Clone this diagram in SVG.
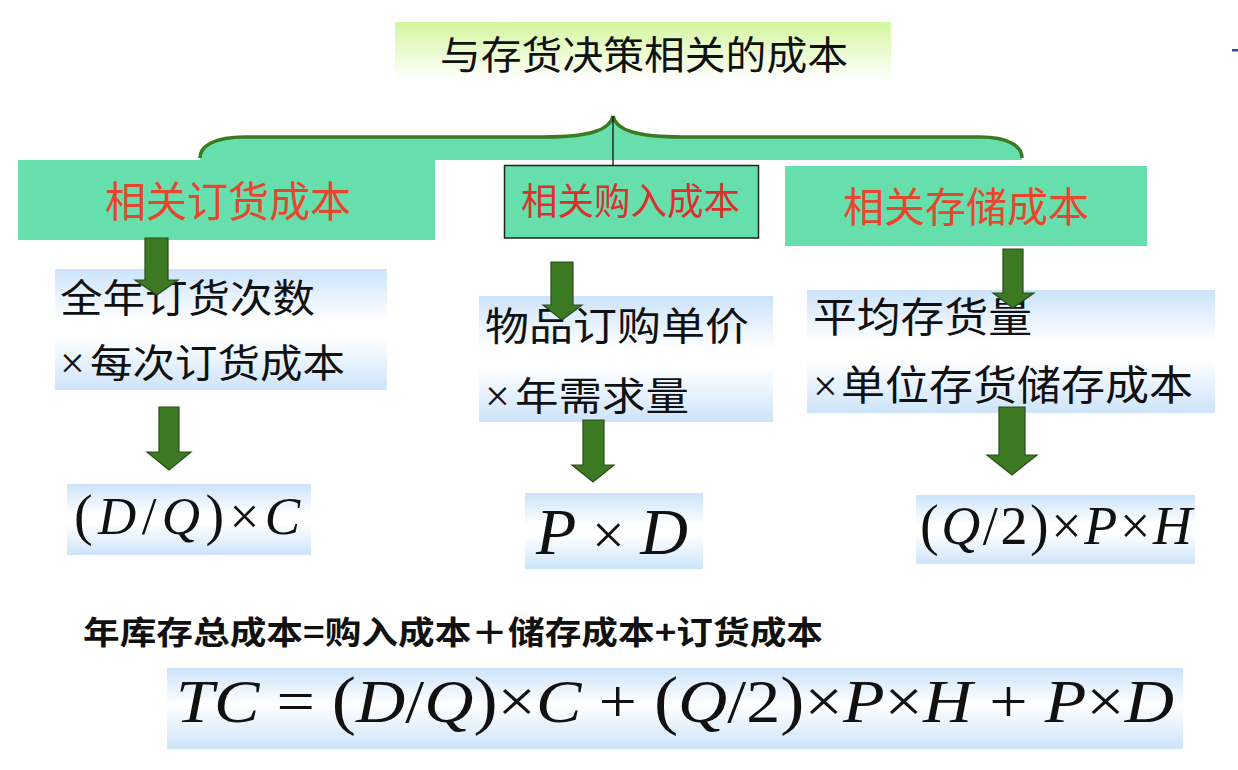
<svg xmlns="http://www.w3.org/2000/svg" width="1238" height="770" viewBox="0 0 1238 770">
<defs>
<linearGradient id="gTitle" x1="0" y1="0" x2="0" y2="1">
<stop offset="0" stop-color="#d4f69e"/>
<stop offset="1" stop-color="#ffffff"/>
</linearGradient>
<linearGradient id="gBlue" x1="0" y1="0" x2="0" y2="1">
<stop offset="0" stop-color="#cbe3fa"/>
<stop offset="0.42" stop-color="#ffffff"/>
<stop offset="0.56" stop-color="#ffffff"/>
<stop offset="1" stop-color="#cde4fa"/>
</linearGradient>
<linearGradient id="gBig" x1="0" y1="0" x2="0" y2="1">
<stop offset="0" stop-color="#cbe3fa"/>
<stop offset="0.45" stop-color="#ffffff"/>
<stop offset="1" stop-color="#cde4fa"/>
</linearGradient>
<style>
.cjk{font-family:"Noto Sans CJK SC","Noto Sans CJK TC",sans-serif;fill:#111}
.red{fill:#e6462e}
.mint{fill:#66dfad}
.tb{fill:url(#gBlue)}
.mul{font-family:"Liberation Serif",serif;font-size:44px;fill:#111}
.f{font-family:"Liberation Serif","Times New Roman",serif;fill:#111}
.i{font-style:italic}
.arrow{fill:#3b7a22;stroke:#2c4a1c;stroke-width:1.2;stroke-linejoin:miter}
</style>
</defs>
<rect width="1238" height="770" fill="#ffffff"/>

<g id="title">
<rect x="395" y="22" width="496" height="58" fill="url(#gTitle)"/>
<text class="cjk" x="440" y="69" font-size="39" textLength="408" lengthAdjust="spacingAndGlyphs">与存货决策相关的成本</text>
</g>

<g id="order-cost">
<rect class="mint" x="18" y="160" width="417" height="80"/>
<text class="cjk red" x="105" y="217" font-size="42" textLength="246" lengthAdjust="spacingAndGlyphs">相关订货成本</text>
</g>

<g id="purchase-cost">
<rect class="mint" x="504.5" y="165.5" width="254" height="72.5" stroke="#222" stroke-width="1.5"/>
<text class="cjk" x="521" y="215" font-size="37" style="fill:#dc2f2f" textLength="219" lengthAdjust="spacingAndGlyphs">相关购入成本</text>
</g>

<g id="holding-cost">
<rect class="mint" x="785" y="166" width="362" height="80"/>
<text class="cjk red" x="843" y="222" font-size="41" textLength="246" lengthAdjust="spacingAndGlyphs">相关存储成本</text>
</g>

<g id="order-desc">
<rect class="tb" x="55" y="269" width="332" height="121"/>
<text class="cjk" x="60" y="312" font-size="39" textLength="255" lengthAdjust="spacingAndGlyphs">全年订货次数</text>
<text class="mul" x="60" y="378">×</text>
<text class="cjk" x="90" y="377" font-size="39" textLength="255" lengthAdjust="spacingAndGlyphs">每次订货成本</text>
</g>

<g id="purchase-desc">
<rect class="tb" x="479" y="296" width="294" height="126"/>
<text class="cjk" x="485" y="340" font-size="39" textLength="264" lengthAdjust="spacingAndGlyphs">物品订购单价</text>
<text class="mul" x="485" y="411">×</text>
<text class="cjk" x="515" y="410" font-size="39" textLength="174" lengthAdjust="spacingAndGlyphs">年需求量</text>
</g>

<g id="holding-desc">
<rect class="tb" x="807" y="290" width="408" height="123"/>
<text class="cjk" x="813" y="332" font-size="41" textLength="219" lengthAdjust="spacingAndGlyphs">平均存货量</text>
<text class="mul" x="813" y="401">×</text>
<text class="cjk" x="841" y="400" font-size="41" textLength="352" lengthAdjust="spacingAndGlyphs">单位存货储存成本</text>
</g>

<g id="order-formula">
<rect class="tb" x="67" y="484" width="244" height="71"/>
<text class="f" x="74" y="534" font-size="53" textLength="226" lengthAdjust="spacing"><tspan font-size="56">(</tspan><tspan class="i">D</tspan>/<tspan class="i">Q</tspan><tspan font-size="56">)</tspan>×<tspan class="i">C</tspan></text>
</g>

<g id="purchase-formula">
<rect class="tb" x="525" y="493" width="178" height="76"/>
<text class="f" x="536" y="554" font-size="66" textLength="152" lengthAdjust="spacing"><tspan class="i">P</tspan><tspan font-size="58">×</tspan><tspan class="i">D</tspan></text>
</g>

<g id="holding-formula">
<rect class="tb" x="916" y="495" width="279" height="69"/>
<text class="f" x="920" y="544" font-size="54" textLength="272" lengthAdjust="spacing"><tspan font-size="56">(</tspan><tspan class="i">Q</tspan>/2<tspan font-size="56">)</tspan>×<tspan class="i">P</tspan>×<tspan class="i">H</tspan></text>
</g>

<g id="total-label">
<text class="cjk" x="83" y="644" font-size="32" font-weight="bold" textLength="740" lengthAdjust="spacingAndGlyphs">年库存总成本=购入成本＋储存成本+订货成本</text>
</g>

<g id="total-formula">
<rect fill="url(#gBig)" x="167" y="668" width="1016" height="81"/>
<text class="f" x="176" y="722" font-size="62" textLength="998" lengthAdjust="spacingAndGlyphs"><tspan class="i">TC</tspan> = <tspan font-size="66">(</tspan><tspan class="i">D</tspan>/<tspan class="i">Q</tspan><tspan font-size="66">)</tspan>×<tspan class="i">C</tspan> + <tspan font-size="66">(</tspan><tspan class="i">Q</tspan>/2<tspan font-size="66">)</tspan>×<tspan class="i">P</tspan>×<tspan class="i">H</tspan> + <tspan class="i">P</tspan>×<tspan class="i">D</tspan></text>
</g>

<g id="corner-mark">
<rect x="1232" y="49" width="6" height="2.5" fill="#2e4b9e"/>
</g>

<g id="connectors">
<path d="M200,160 L200,158 C200,146 214,137 245,137 L543,137 C590,137 610,130 613,116 C616,130 636,137 683,137 L980,137 C1008,137 1022,146 1022,158 L1022,160 Z" fill="#66dfad"/>
<path d="M200,158 C200,146 214,137 245,137 L543,137 C590,137 610,130 613,116 C616,130 636,137 683,137 L980,137 C1008,137 1022,146 1022,158" fill="none" stroke="#3a7a22" stroke-width="3.5"/>
<line x1="613" y1="116" x2="613" y2="166" stroke="#111" stroke-width="1.3"/>
<path class="arrow" d="M145,238 L168,238 L168,280 L178,280 L157,295 L135,280 L145,280 Z"/>
<path class="arrow" d="M551,262 L573,262 L573,305 L582,305 L562,320 L543,305 L551,305 Z"/>
<path class="arrow" d="M1003,249 L1023,249 L1023,293 L1034,293 L1013,308 L993,293 L1003,293 Z"/>
<path class="arrow" d="M159,407 L179,407 L179,452 L191,452 L169,470 L147,452 L159,452 Z"/>
<path class="arrow" d="M583,420 L604,420 L604,465 L614,465 L593,482 L572,465 L583,465 Z"/>
<path class="arrow" d="M999,407 L1025,407 L1025,455 L1037,455 L1012,475 L987,455 L999,455 Z"/>
</g>
</svg>
